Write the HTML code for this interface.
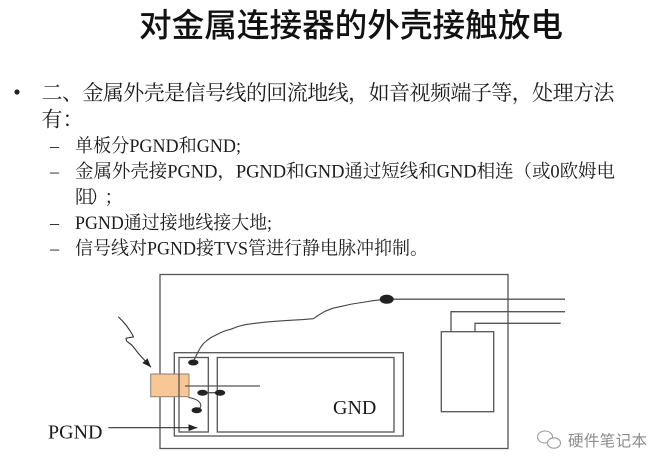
<!DOCTYPE html>
<html>
<head>
<meta charset="utf-8">
<style>
  html,body{margin:0;padding:0;background:#fff;}
  svg{display:block;}
  svg text{text-spacing-trim: space-all; font-kerning: none;}
</style>
</head>
<body>
<svg width="669" height="469" viewBox="0 0 669 469" xmlns="http://www.w3.org/2000/svg">
  <defs>
    <marker id="ah" markerWidth="9" markerHeight="7" refX="9" refY="3.5" orient="auto" markerUnits="userSpaceOnUse">
      <path d="M0,0 L9,3.5 L0,7 z" fill="#222"/>
    </marker>
  </defs>
  <rect x="0" y="0" width="669" height="469" fill="#fff"/>

  <!-- Title -->
  <text x="139" y="36.5" font-family="'Noto Sans CJK SC', 'WenQuanYi Zen Hei', sans-serif" font-size="32.5" font-weight="500" fill="#111" textLength="424" lengthAdjust="spacingAndGlyphs">对金属连接器的外壳接触放电</text>

  <!-- Bullet -->
  <circle cx="17" cy="92" r="2.6" fill="#222"/>
  <g font-family="'Liberation Serif', 'Noto Serif CJK SC', serif" fill="#1c1c1c">
    <text x="41.5" y="100" font-size="21" textLength="573" lengthAdjust="spacing">二、金属外壳是信号线的回流地线，如音视频端子等，处理方法</text>
    <text x="41.5" y="126.5" font-size="21">有：</text>

    <!-- Sub items -->
    <text x="50" y="152" font-size="18">–</text>
    <text x="75" y="152" font-size="18.5" textLength="166" lengthAdjust="spacingAndGlyphs">单板分PGND和GND;</text>

    <text x="50" y="177.5" font-size="18">–</text>
    <text x="75" y="177.5" font-size="18.5" textLength="540" lengthAdjust="spacing">金属外壳接PGND，PGND和GND通过短线和GND相连（或0欧姆电</text>
    <text x="75" y="203.3" font-size="18.5" textLength="48" lengthAdjust="spacing">阻）；</text>

    <text x="50" y="229" font-size="18">–</text>
    <text x="75" y="229" font-size="18.5" textLength="197" lengthAdjust="spacingAndGlyphs">PGND通过接地线接大地;</text>

    <text x="50" y="254.5" font-size="18">–</text>
    <text x="75" y="254.5" font-size="18.5" textLength="353" lengthAdjust="spacingAndGlyphs">信号线对PGND接TVS管进行静电脉冲抑制。</text>
  </g>

  <!-- Diagram -->
  <g fill="none" stroke="#555" stroke-width="1.3">
    <rect x="160" y="274.5" width="348" height="174"/>
    <rect x="441.3" y="331.7" width="52.4" height="80"/>
    <path d="M386.7,299.2 H565"/>
    <path d="M451,331.7 V311.7 H565"/>
    <path d="M475,331.7 V323.3 H560.7"/>
    <rect x="174.3" y="352.7" width="229" height="83.3"/>
    <rect x="217.3" y="357.5" width="176.7" height="74.5"/>
  </g>

  <!-- orange connector -->
  <rect x="150.7" y="374" width="38.3" height="22.7" fill="#f8c795" stroke="#8f7f70" stroke-width="1"/>

  <g fill="none" stroke="#555" stroke-width="1.3">
    <rect x="179" y="357.5" width="29.3" height="74.5"/>
    <path d="M185,386 H260"/>
    <path d="M202.5,392.7 H220"/>
  </g>

  <!-- wavy wire -->
  <polyline fill="none" stroke="#444" stroke-width="1.1" stroke-linejoin="round"
    points="193.3,362 195.5,357 198,352 200.5,347.5 203.5,343.5 207,340.5 211,337.5 216,335 221,332.5 226,330.5 231,329.2 238,326.5 245,324.7 255,323.3 265,322.2 275,321.3 290,320.3 303,319.6 313.3,318.7 318,315.5 325,311.3 333,308.2 341.7,306.3 352,304 365,302 374,300.6 381.7,299.7"/>

  <!-- small hook -->
  <path d="M188.5,397.5 C195,398.5 200,401 200.8,405 C201.2,407.5 199,409 197,410" fill="none" stroke="#444" stroke-width="1.1"/>

  <!-- dots -->
  <g fill="#222">
    <ellipse cx="386.7" cy="299.2" rx="7" ry="4.6"/>
    <ellipse cx="193.3" cy="362.5" rx="5.2" ry="3"/>
    <ellipse cx="202.5" cy="392.7" rx="5.2" ry="3"/>
    <ellipse cx="220" cy="392.7" rx="5.2" ry="3"/>
    <ellipse cx="196.7" cy="410.2" rx="5.2" ry="3"/>
  </g>

  <!-- lightning arrow -->
  <polyline fill="none" stroke="#333" stroke-width="1.1" stroke-linejoin="round" marker-end="url(#ah)"
    points="118.3,316.7 122,320.5 126,325 129.5,330 132,334 133.5,337 129,337.6 126,338.3 126.5,341 129,343 131.7,345 135,349 138.3,353.3 143,358.5 151,367.3"/>

  <!-- PGND arrow -->
  <path d="M108.3,427.7 H197.3" stroke="#333" stroke-width="1.1" fill="none" marker-end="url(#ah)"/>

  <!-- labels -->
  <text x="48" y="438.5" font-family="'Liberation Serif', serif" font-size="20" fill="#1a1a1a">PGND</text>
  <text x="333" y="414" font-family="'Liberation Serif', serif" font-size="20" fill="#1a1a1a">GND</text>

  <!-- watermark -->
  <g fill="#fff" stroke="#9a9a9a" stroke-width="1.1">
    <ellipse cx="545" cy="437" rx="7.5" ry="6"/>
    <ellipse cx="554" cy="443" rx="6.5" ry="5.2"/>
  </g>
  <text x="568" y="446" font-family="'Noto Sans CJK SC', 'WenQuanYi Zen Hei', sans-serif" font-size="15.5" fill="#8a8a8a" textLength="79" lengthAdjust="spacing">硬件笔记本</text>
</svg>
</body>
</html>
